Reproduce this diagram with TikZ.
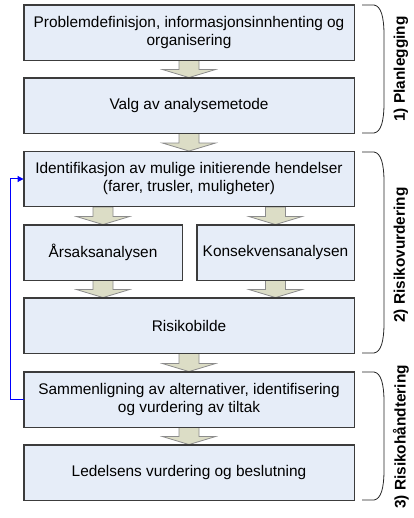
\documentclass[tikz,border=0pt]{standalone}
\usepackage{fontspec}
\setmainfont{Liberation Sans}
\usetikzlibrary{calc,arrows.meta}
\definecolor{boxfill}{RGB}{230,237,248}
\definecolor{boxline}{RGB}{60,60,60}
\definecolor{arrfill}{RGB}{220,221,198}
\definecolor{arrline}{RGB}{140,140,140}
\newcommand\barrow[2]{\draw[arr] ($#1+(-10,0)$) -- ($#1+(10,0)$) -- ($#2+(10,-8)$) -- ($#2+(26.5,-8)$) -- #2 -- ($#2+(-26.5,-8)$) -- ($#2+(-10,-8)$) -- cycle;}
\tikzset{
  box/.style={draw=boxline, fill=boxfill, line width=0.9pt, minimum width=330pt, minimum height=55pt, align=center, inner sep=0pt, font=\fontsize{15.4}{18}\selectfont},
  halfbox/.style={box, minimum width=158pt},
  arr/.style={draw=arrline, fill=arrfill, line width=0.8pt},
  brace/.style={draw=black!85, line width=0.8pt},
  phase/.style={rotate=90, font=\fontsize{15.4}{18}\selectfont\bfseries, inner sep=0pt},
  loop/.style={draw={rgb,255:red,0;green,0;blue,255}, line width=1pt, -{Triangle[length=6pt,width=6pt]}}
}
\begin{document}
\begin{tikzpicture}[x=1pt,y=-1pt]
\useasboundingbox (0,0) rectangle (413,518);
% nodes
\node[box] (b1) at (189,32.5) {Problemdefinisjon, informasjonsinnhenting og\\organisering};
\node[box] (b2) at (189,105.5) {Valg av analysemetode};
\node[box] (b3) at (189,179) {Identifikasjon av mulige initierende hendelser\\(farer, trusler, muligheter)};
\node[halfbox] (ars) at (103,252.5) {Årsaksanalysen};
\node[halfbox, minimum width=157pt] (kon) at (275.5,252.5) {Konsekvensanalysen};
\node[box] (b4) at (189,325.5) {Risikobilde};
\node[box] (b5) at (189,399.5) {Sammenligning av alternativer, identifisering\\og vurdering av tiltak};
\node[box] (b6) at (189,472.5) {Ledelsens vurdering og beslutning};
% block arrows
\barrow{(b1.south)}{(b2.north)}
\barrow{(b2.south)}{(b3.north)}
\barrow{(ars.north |- b3.south)}{(ars.north)}
\barrow{(kon.north |- b3.south)}{(kon.north)}
\barrow{(ars.south)}{(ars.south |- b4.north)}
\barrow{(kon.south)}{(kon.south |- b4.north)}
\barrow{(b4.south)}{(b5.north)}
\barrow{(b5.south)}{(b6.north)}
% redraw box borders over arrow ends
\foreach \n in {b1,b2,b3,ars,kon,b4,b5,b6} {\draw[draw=boxline, line width=0.9pt] (\n.south west) rectangle (\n.north east);}
% feedback loop
\coordinate (lc) at (10,0);
\draw[loop] (b5.west) -| (lc |- b3.west) -- (b3.west);
% braces
\coordinate (br1t) at (362,5);
\coordinate (br1b) at (362,133);
\coordinate (br2t) at (362,152);
\coordinate (br2b) at (362,353);
\coordinate (br3t) at (362,372);
\coordinate (br3b) at (362,500);
\draw[brace] (br1t) -- ++(12,0) .. controls ++(7,1) and ++(0,-18) .. ++(10,30) -- ++(0,68) .. controls ++(0,18) and ++(7,-1) .. ++(-10,30) -- (br1b);
\draw[brace] (br2t) -- ++(12,0) .. controls ++(7,1) and ++(0,-18) .. ++(10,30) -- ++(0,141) .. controls ++(0,18) and ++(7,-1) .. ++(-10,30) -- (br2b);
\draw[brace] (br3t) -- ++(12,0) .. controls ++(7,1) and ++(0,-18) .. ++(10,30) -- ++(0,68) .. controls ++(0,18) and ++(7,-1) .. ++(-10,30) -- (br3b);
% phase labels
\node[phase] (p1) at (401,69) {1) Planlegging};
\node[phase] (p2) at (401,255) {2) Risikovurdering};
\node[phase] (p3) at (401,437) {3) Risikohåndtering};
\end{tikzpicture}
\end{document}
